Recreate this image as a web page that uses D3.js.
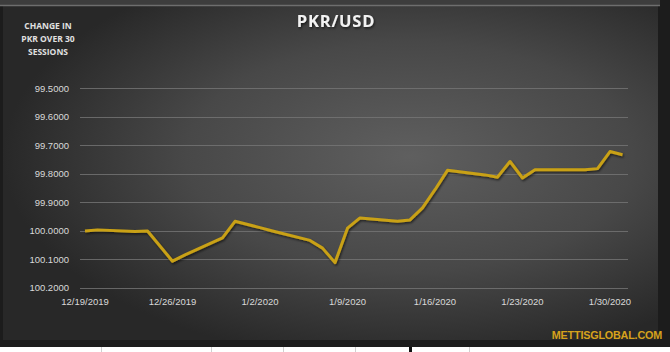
<!DOCTYPE html>
<html lang="en">
<head>
<meta charset="UTF-8">
<title>PKR/USD</title>
<script src="https://cdn.jsdelivr.net/npm/d3@7"></script>
<style>
  html, body { margin: 0; padding: 0; background: #ffffff; }
  svg { display: block; }
</style>
</head>
<body>
<svg id="chart" width="670" height="352"></svg>
<script>
// sessions (dates) and PKR/USD rate
var dates = ["2019-12-19", "2019-12-20", "2019-12-23", "2019-12-24", "2019-12-26", "2019-12-27",
  "2019-12-30", "2019-12-31", "2020-01-02", "2020-01-03", "2020-01-06", "2020-01-07",
  "2020-01-08", "2020-01-09", "2020-01-10", "2020-01-13", "2020-01-14", "2020-01-15",
  "2020-01-16", "2020-01-17", "2020-01-20", "2020-01-21", "2020-01-22", "2020-01-23",
  "2020-01-24", "2020-01-27", "2020-01-28", "2020-01-29", "2020-01-30", "2020-01-31"];
var rates = [100.001, 99.997, 100.003, 100.001, 100.107, 100.085,
  100.025, 99.967, 99.989, 100.001, 100.034, 100.061,
  100.112, 99.991, 99.955, 99.967, 99.962, 99.920,
  99.856, 99.788, 99.804, 99.812, 99.757, 99.815,
  99.786, 99.786, 99.786, 99.782, 99.722, 99.733];
var yTicks = [99.5, 99.6, 99.7, 99.8, 99.9, 100.0, 100.1, 100.2];
var xTicks = ["2019-12-19", "2019-12-26", "2020-01-02", "2020-01-09", "2020-01-16", "2020-01-23", "2020-01-30"];

var parse = d3.timeParse("%Y-%m-%d");
var data = dates.map(function (d, i) { return { date: parse(d), value: rates[i] }; });

var svg = d3.select("#chart");
var defs = svg.append("defs");

// background gradient
var grad = defs.append("radialGradient")
  .attr("id", "bg")
  .attr("cx", "62%").attr("cy", "45%").attr("r", "62%");
grad.append("stop").attr("offset", "0%").attr("stop-color", "#5f5f5f");
grad.append("stop").attr("offset", "55%").attr("stop-color", "#484848");
grad.append("stop").attr("offset", "100%").attr("stop-color", "#282828");

var shadow = defs.append("filter").attr("id", "shadow")
  .attr("x", "-10%").attr("y", "-10%").attr("width", "120%").attr("height", "130%");
shadow.append("feDropShadow").attr("dx", 1).attr("dy", 1.5).attr("stdDeviation", 1)
  .attr("flood-color", "#000").attr("flood-opacity", 0.6);

// frame
svg.append("rect").attr("x", 0).attr("y", 0).attr("width", 670).attr("height", 347).attr("fill", "#1c1c1c");
svg.append("rect").attr("x", 0).attr("y", 0).attr("width", 660).attr("height", 6).attr("fill", "#3d3d3d");
svg.append("rect").attr("x", 3).attr("y", 6).attr("width", 655).attr("height", 334).attr("fill", "url(#bg)");
svg.append("line").attr("x1", 0).attr("x2", 660).attr("y1", 5.5).attr("y2", 5.5)
  .attr("stroke", "#6e6e6e").attr("stroke-width", 1.5);

// spreadsheet strip at the bottom
svg.append("rect").attr("x", 0).attr("y", 347).attr("width", 670).attr("height", 5).attr("fill", "#ffffff");
[101, 211, 283, 355, 469].forEach(function (x) {
  svg.append("line").attr("x1", x + 0.5).attr("x2", x + 0.5).attr("y1", 347).attr("y2", 352)
    .attr("stroke", "#d0d0d0");
});
svg.append("rect").attr("x", 409).attr("y", 347).attr("width", 3).attr("height", 5).attr("fill", "#111");

// scales
var x = d3.scaleTime()
  .domain([parse("2019-12-19"), parse("2020-01-30")])
  .range([85, 610]);
var y = d3.scaleLinear()
  .domain([99.5, 100.2])
  .range([88.3, 287.7]);

// gridlines
svg.append("g").selectAll("line").data(yTicks).enter().append("line")
  .attr("x1", 80).attr("x2", 628)
  .attr("y1", function (d) { return Math.round(y(d)) + 0.5; })
  .attr("y2", function (d) { return Math.round(y(d)) + 0.5; })
  .attr("stroke", "#767676").attr("stroke-width", 0.8);

// y labels
svg.append("g").selectAll("text").data(yTicks).enter().append("text")
  .attr("x", 69).attr("y", function (d) { return y(d); })
  .attr("dy", "0.35em")
  .attr("text-anchor", "end")
  .attr("font-family", "'Liberation Sans', Arial, sans-serif")
  .attr("font-size", 9.5)
  .attr("fill", "#d9d9d9")
  .text(function (d) { return d3.format(".4f")(d); });

// x labels
svg.append("g").selectAll("text").data(xTicks).enter().append("text")
  .attr("x", function (d) { return x(parse(d)); })
  .attr("y", 305)
  .attr("text-anchor", "middle")
  .attr("font-family", "'Liberation Sans', Arial, sans-serif")
  .attr("font-size", 9.5)
  .attr("fill", "#d9d9d9")
  .text(function (d) { return d3.timeFormat("%-m/%-d/%Y")(parse(d)); });

// line
var line = d3.line()
  .x(function (d) { return x(d.date); })
  .y(function (d) { return y(d.value); });
svg.append("path").datum(data)
  .attr("d", line)
  .attr("fill", "none")
  .attr("stroke", "#c9a115")
  .attr("stroke-width", 3)
  .attr("stroke-linejoin", "round")
  .attr("filter", "url(#shadow)");

// title
svg.append("text")
  .attr("x", 336).attr("y", 27)
  .attr("text-anchor", "middle")
  .attr("font-family", "'Open Sans', 'Liberation Sans', sans-serif")
  .attr("font-weight", "bold")
  .attr("font-size", 16.5)
  .attr("letter-spacing", 0.8)
  .attr("fill", "#f2f2f2")
  .attr("filter", "url(#shadow)")
  .text("PKR/USD");

// side note
var note = ["CHANGE IN", "PKR OVER 30", "SESSIONS"];
svg.append("g").selectAll("text").data(note).enter().append("text")
  .attr("x", 48)
  .attr("y", function (d, i) { return 29 + i * 13; })
  .attr("text-anchor", "middle")
  .attr("font-family", "'Open Sans', 'Liberation Sans', sans-serif")
  .attr("font-weight", "bold")
  .attr("font-size", 8.5)
  .attr("fill", "#e0e0e0")
  .text(function (d) { return d; });

// watermark
svg.append("text")
  .attr("x", 662).attr("y", 339)
  .attr("text-anchor", "end")
  .attr("font-family", "'Liberation Sans', Arial, sans-serif")
  .attr("font-weight", "bold")
  .attr("font-size", 10.8)
  .attr("letter-spacing", -0.2)
  .attr("fill", "#d6a21c")
  .text("METTISGLOBAL.COM");
</script>
</body>
</html>
